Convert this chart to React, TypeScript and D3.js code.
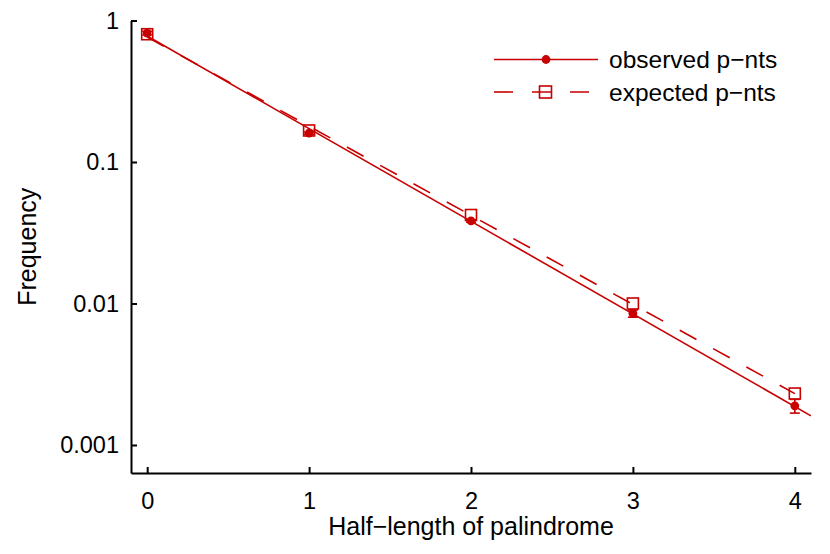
import React, { useEffect, useRef } from "react";
import * as d3 from "d3";

const halfLength = [0, 1, 2, 3, 4];
const observed = [0.815, 0.16, 0.0383, 0.0085, 0.00189];
const observedLow = [0.79, 0.157, 0.0375, 0.008, 0.00168];
const observedHigh = [0.84, 0.163, 0.0391, 0.009, 0.0021];
const expected = [0.8, 0.167, 0.0422, 0.01, 0.00231];
// fitted log10 lines (intercept at x = 0, slope per unit half-length)
const observedFit = { intercept: -0.11, slope: -0.6546 };
const expectedFit = { intercept: -0.117, slope: -0.63 };
const observedFitRange = [0, 4.1];
const expectedFitRange = [0, 4];
const xTicks = [0, 1, 2, 3, 4];
const yTicks = [1, 0.1, 0.01, 0.001];
const yTickLabels = ["1", "0.1", "0.01", "0.001"];
const legendLabels = ["observed p\u2212nts", "expected p\u2212nts"];

const W = 830;
const H = 554;
const RED = "#c80000";
const FONT = "'Liberation Sans', Arial, Helvetica, sans-serif";

export default function App() {
  const ref = useRef<SVGSVGElement | null>(null);

  useEffect(() => {
    const svg = d3.select(ref.current);
    svg.selectAll("*").remove();

    const left = 131, right = 811, top = 20.5, bottom = 473;
    const x = d3.scaleLinear().domain([-0.1, 4.1]).range([left, right]);
    const y = d3.scaleLog().domain([Math.pow(10, -3.198), 1]).range([bottom, top]);

    svg.append("defs").append("clipPath").attr("id", "plotclip")
      .append("rect").attr("x", left).attr("y", top).attr("width", right - left).attr("height", bottom - top);

    // axes
    const yAxis = d3.axisLeft(y)
      .tickValues(yTicks)
      .tickFormat((d, i) => yTickLabels[i])
      .tickSize(-6)
      .tickSizeOuter(0)
      .tickPadding(12);
    const gy = svg.append("g").attr("transform", `translate(${left},0)`).call(yAxis);

    const xAxis = d3.axisBottom(x)
      .tickValues(xTicks)
      .tickFormat((d) => String(d))
      .tickSize(-6)
      .tickSizeOuter(0)
      .tickPadding(19);
    const gx = svg.append("g").attr("transform", `translate(0,${bottom})`).call(xAxis);

    [gx, gy].forEach((g) => {
      g.select(".domain").attr("stroke", "#000").attr("stroke-width", 2);
      g.selectAll(".tick line").attr("stroke", "#000").attr("stroke-width", 2);
      g.selectAll(".tick text")
        .attr("fill", "#000")
        .attr("font-family", FONT)
        .attr("font-size", 23.5);
    });

    // axis titles
    svg.append("text")
      .attr("x", (left + right) / 2)
      .attr("y", 535)
      .attr("text-anchor", "middle")
      .attr("font-family", FONT)
      .attr("font-size", 25)
      .text("Half\u2212length of palindrome");

    svg.append("text")
      .attr("transform", `translate(36,${(top + bottom) / 2}) rotate(-90)`)
      .attr("text-anchor", "middle")
      .attr("font-family", FONT)
      .attr("font-size", 25)
      .text("Frequency");

    const plot = svg.append("g").attr("clip-path", "url(#plotclip)");

    const fitLine = (fit: { intercept: number; slope: number }) =>
      d3.line<number>()
        .x((d) => x(d))
        .y((d) => y(Math.pow(10, fit.intercept + fit.slope * d)));

    // fitted observed line (solid)
    plot.append("path")
      .datum(observedFitRange)
      .attr("d", fitLine(observedFit))
      .attr("fill", "none")
      .attr("stroke", RED)
      .attr("stroke-width", 1.6);

    // fitted expected line (dashed)
    plot.append("path")
      .datum(expectedFitRange)
      .attr("d", fitLine(expectedFit))
      .attr("fill", "none")
      .attr("stroke", RED)
      .attr("stroke-width", 1.6)
      .attr("stroke-dasharray", "19,19");

    // error bars
    const eb = plot.append("g").attr("stroke", RED).attr("stroke-width", 1.6);
    halfLength.forEach((h, i) => {
      const cx = x(h);
      eb.append("line").attr("x1", cx).attr("x2", cx).attr("y1", y(observedLow[i])).attr("y2", y(observedHigh[i]));
      eb.append("line").attr("x1", cx - 5).attr("x2", cx + 5).attr("y1", y(observedLow[i])).attr("y2", y(observedLow[i]));
      eb.append("line").attr("x1", cx - 5).attr("x2", cx + 5).attr("y1", y(observedHigh[i])).attr("y2", y(observedHigh[i]));
    });

    // observed points
    plot.selectAll("circle.obs")
      .data(observed)
      .join("circle")
      .attr("class", "obs")
      .attr("cx", (d, i) => x(halfLength[i]))
      .attr("cy", (d) => y(d))
      .attr("r", 4.4)
      .attr("fill", RED);

    // expected squares
    const sq = 11;
    plot.selectAll("rect.exp")
      .data(expected)
      .join("rect")
      .attr("class", "exp")
      .attr("x", (d, i) => x(halfLength[i]) - sq / 2)
      .attr("y", (d) => y(d) - sq / 2)
      .attr("width", sq)
      .attr("height", sq)
      .attr("fill", "none")
      .attr("stroke", RED)
      .attr("stroke-width", 1.6);

    // legend
    const lg = svg.append("g");
    const rows = [59.5, 92];
    const lx1 = 494, lx2 = 598, lm = 546;
    lg.append("line").attr("x1", lx1).attr("x2", lx2).attr("y1", rows[0]).attr("y2", rows[0])
      .attr("stroke", RED).attr("stroke-width", 1.6);
    lg.append("circle").attr("cx", lm).attr("cy", rows[0]).attr("r", 4.4).attr("fill", RED);
    lg.append("line").attr("x1", lx1).attr("x2", lx2).attr("y1", rows[1]).attr("y2", rows[1])
      .attr("stroke", RED).attr("stroke-width", 1.6).attr("stroke-dasharray", "19,19");
    lg.append("rect").attr("x", lm - sq / 2 - 1).attr("y", rows[1] - sq / 2 - 0.5).attr("width", sq + 1).attr("height", sq + 1)
      .attr("fill", "none").attr("stroke", RED).attr("stroke-width", 1.6);
    legendLabels.forEach((t, i) => {
      lg.append("text")
        .attr("x", 609)
        .attr("y", rows[i])
        .attr("dy", "0.36em")
        .attr("font-family", FONT)
        .attr("font-size", 24.5)
        .attr("fill", "#000")
        .text(t);
    });
  }, []);

  return (
    <svg
      ref={ref}
      width={W}
      height={H}
      style={{ position: "absolute", left: 0, top: 0, background: "#fff" }}
    />
  );
}
